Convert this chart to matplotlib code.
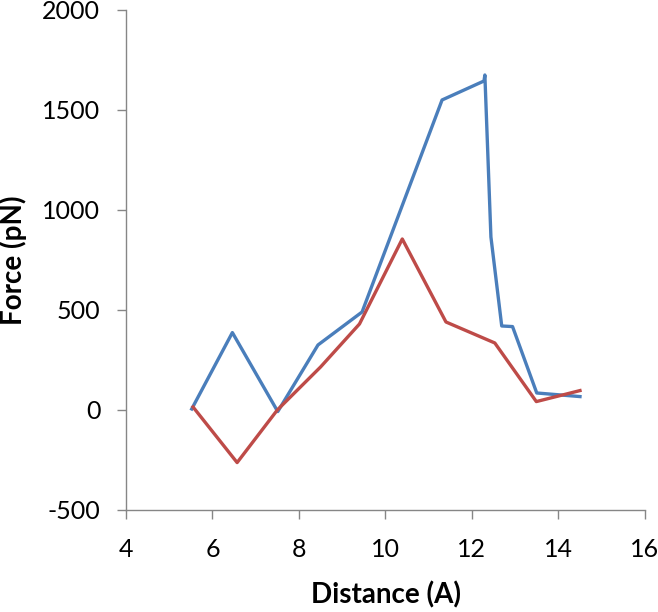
import matplotlib
matplotlib.use("Agg")
import matplotlib.pyplot as plt

# blue curve (distance in A, force in pN)
blue_x = [5.52, 6.46, 7.51, 8.44, 9.46, 11.31, 12.28, 12.3, 12.44, 12.69, 12.94, 13.5, 14.5]
blue_y = [5, 387, -8, 325, 490, 1550, 1645, 1675, 865, 420, 417, 85, 67]

# red curve
red_x = [5.55, 6.57, 7.5, 8.5, 9.4, 10.39, 11.4, 12.53, 13.49, 14.5]
red_y = [15, -263, 0, 215, 430, 855, 440, 335, 42, 97]

plt.rcParams['font.family'] = ['Lato', 'DejaVu Sans']
plt.rcParams['axes.unicode_minus'] = False

fig = plt.figure(figsize=(6.58, 6.12), dpi=100)
ax = fig.add_axes([0.1915, 0.1667, 0.7885, 0.817])

ax.plot(blue_x, blue_y, color='#4A7EBB', linewidth=2.4, solid_joinstyle='round')
ax.plot(red_x, red_y, color='#BE4B48', linewidth=2.4, solid_joinstyle='round')

ax.set_xlim(4, 16)
ax.set_ylim(-500, 2000)
ax.set_xticks(range(4, 17, 2))
ax.set_yticks(range(-500, 2001, 500))

for s in ['top', 'right']:
    ax.spines[s].set_visible(False)
for s in ['left', 'bottom']:
    ax.spines[s].set_color('#868686')
    ax.spines[s].set_linewidth(1)

ax.tick_params(direction='out', length=6.5, width=1, color='#868686',
               labelsize=18, labelcolor='black')
ax.tick_params(axis='x', pad=14)
ax.tick_params(axis='y', pad=12)

ax.set_xlabel('Distance (A)', fontsize=20, fontweight='bold', va='center')
ax.set_ylabel('Force (pN)', fontsize=20, fontweight='bold', va='center')
ax.xaxis.set_label_coords(0.502, -0.170)
ax.yaxis.set_label_coords(-0.218, 0.5)

fig.savefig('out.png', dpi=100)
